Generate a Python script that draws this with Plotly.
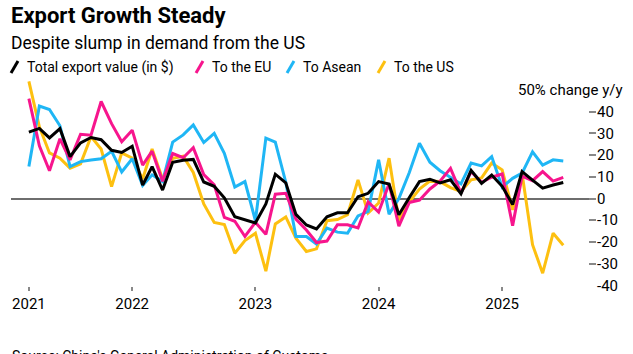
import pandas as pd
import plotly.graph_objects as go

months = pd.date_range("2021-03-01", periods=53, freq="MS")

total = [30.6, 32.3, 27.9, 32.2, 19.3, 25.6, 28.1, 27.1, 22.2, 21.2,
         24.1, 6.2, 14.7, 3.9, 16.7, 17.6, 18.0, 7.6, 5.6, 0.3, -8.4, -9.8,
         -11.3, -2.5, 11.2, 7.2, -7.3, -12.2, -14.0, -8.4, -6.6, -6.6, 0.8, 2.4,
         7.8, 6.7, -7.5, 0.5, 7.8, 8.9, 7.2, 8.6, 2.2, 13.0, 7.0,
         10.8, 5.6, -2.8, 12.4, 8.5, 4.8, 6.2, 7.4]

eu = [46.0, 24.3, 12.8, 27.5, 17.8, 29.6, 29.2, 44.7, 34.5, 26.2,
      31.5, 15.4, 21.8, 8.0, 20.7, 18.8, 23.4, 11.0, 6.3, -8.7, -10.5, -17.5,
      -11.0, -16.5, 2.0, 2.4, -9.5, -14.5, -20.3, -19.6, -12.1, -12.1, -13.6, -1.6,
      -6.3, 6.8, -12.7, -1.8, -0.8, 4.4, 8.0, 13.9, 2.5, 12.4, 7.5,
      9.8, 11.3, -12.5, 10.3, 8.2, 12.4, 8.0, 9.7]

asean = [14.7, 42.6, 41.0, 33.5, 14.7, 17.0, 17.7, 18.3, 21.8, 12.2,
         18.3, 6.0, 10.9, 7.8, 26.0, 29.3, 33.9, 25.8, 30.0, 20.8, 5.3, 7.8,
         -10.2, 27.8, 26.0, 7.5, -17.5, -17.5, -21.0, -13.6, -15.5, -16.0, -8.0, -6.0,
         17.8, -7.2, 0.0, 12.0, 25.5, 16.7, 12.8, 9.9, 6.7, 16.3, 15.0,
         19.3, 5.2, 9.3, 11.7, 21.5, 15.4, 17.8, 17.3]

us = [54.0, 33.0, 21.0, 18.6, 14.0, 16.0, 28.5, 22.8, 5.5, 21.0,
      18.6, 9.0, 22.8, 9.0, 18.5, 19.5, 12.0, -2.5, -11.0, -12.0, -25.2, -19.4,
      -16.0, -33.5, -11.7, -8.5, -18.3, -24.4, -23.2, -10.2, -9.7, -7.5, 8.6, -6.7,
      -2.1, 18.6, -10.0, -1.5, 4.3, 8.0, 7.8, 5.0, 3.2, 8.6, 9.5,
      16.3, 13.2, -5.2, 11.5, -21.3, -34.4, -16.0, -21.5]

series_names = ["Total export value (in $)", "To the EU", "To Asean", "To the US"]
colors = ["#000000", "#f7158d", "#1fb6f5", "#fdc010"]

year_tick_dates = ["2021-03-01", "2022-01-01", "2023-01-01", "2024-01-01", "2025-01-01"]
year_tick_text = ["2021", "2022", "2023", "2024", "2025"]

y_tick_vals = [-40, -30, -20, -10, 0, 10, 20, 30, 40]
y_tick_text = ["-40", "-30", "-20", "-10", "0", "10", "20", "30", "40"]

FONT = "Roboto"
W, H = 633, 354
L, R, T, B = 11, 37, 79, 68
PW = W - L - R
PH = H - T - B


def px(xp):
    return (xp - L) / PW


def py(yp):
    return (H - B - yp) / PH


fig = go.Figure()
data = [total, eu, asean, us]
for idx in [3, 2, 1, 0]:
    fig.add_trace(go.Scatter(x=months, y=data[idx], mode="lines", name=series_names[idx],
                             line=dict(color=colors[idx], width=3), showlegend=False))

annotations = []
shapes = []
annotations.append(dict(text="<b>Export Growth Steady</b>", x=px(9), y=py(16), xref="paper", yref="paper",
                        xanchor="left", yanchor="middle", showarrow=False,
                        font=dict(family=FONT, size=22, color="#000")))
annotations.append(dict(text="Despite slump in demand from the US", x=px(9), y=py(43), xref="paper",
                        yref="paper", xanchor="left", yanchor="middle", showarrow=False,
                        font=dict(family=FONT, size=17.5, color="#000")))

legend_x = [11, 196, 287, 378]
for i, name in enumerate(series_names):
    x0 = legend_x[i]
    shapes.append(dict(type="line", xref="paper", yref="paper", x0=px(x0), y0=py(73), x1=px(x0 + 7),
                       y1=py(61), line=dict(color=colors[i], width=3)))
    annotations.append(dict(text=name, x=px(x0 + 14), y=py(67), xref="paper", yref="paper",
                            xanchor="left", yanchor="middle", showarrow=False,
                            font=dict(family=FONT, size=14, color="#000")))

annotations.append(dict(text="50% change y/y", x=px(625), y=py(90), xref="paper", yref="paper",
                        xanchor="right", yanchor="middle", showarrow=False,
                        font=dict(family=FONT, size=15, color="#000")))
annotations.append(dict(text="Source: China's General Administration of Customs", x=px(10), y=py(346),
                        xref="paper", yref="paper", xanchor="left", yanchor="top", showarrow=False,
                        font=dict(family=FONT, size=14, color="#000")))

fig.update_layout(
    width=W, height=H,
    margin=dict(l=L, r=R, t=T, b=B, pad=0),
    paper_bgcolor="white", plot_bgcolor="white",
    showlegend=False,
    annotations=annotations,
    shapes=shapes,
    xaxis=dict(range=["2021-01-07", "2025-10-06"], tickmode="array", tickvals=year_tick_dates,
               ticktext=year_tick_text, ticks="outside", ticklen=4, tickwidth=1.5, tickcolor="#888",
               showgrid=False, zeroline=False, showline=False,
               tickfont=dict(family=FONT, size=15, color="#000")),
    yaxis=dict(range=[-40.32, 55.07], side="right", tickmode="array", tickvals=y_tick_vals,
               ticktext=y_tick_text, ticks="inside", ticklen=7, tickwidth=2, tickcolor="#888",
               showgrid=False, zeroline=True, zerolinecolor="#6e6e6e", zerolinewidth=1.5,
               showline=False, tickfont=dict(family=FONT, size=15, color="#000")),
)

fig.write_html("out.html")
